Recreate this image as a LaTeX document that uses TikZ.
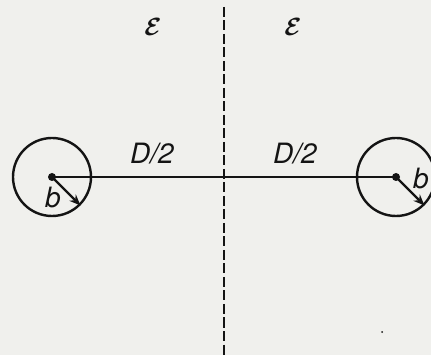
\documentclass[tikz,border=0pt]{standalone}
\usepackage{fontspec}
\setmainfont{TeX Gyre Heros}
\usepackage{xcolor}
\usetikzlibrary{arrows.meta,positioning}
\definecolor{paper}{RGB}{240,240,237}
\definecolor{ink}{RGB}{20,20,20}

\begin{document}
\begin{tikzpicture}[
  x=1pt,y=-1pt,
  every node/.style={font=\fontsize{28}{30}\selectfont\itshape,text=ink,inner sep=0pt},
  medium/.style={font=\fontsize{32}{34}\selectfont\boldmath},
  wire/.style={draw=ink,circle,line width=2.4pt,minimum size=78pt,inner sep=0pt},
  arr/.style={-{Stealth[length=11pt,width=9pt]},line width=2.2pt,draw=ink},
  axis/.style={line width=2.6pt,draw=ink},
  cut/.style={line width=2.6pt,draw=ink,dash pattern=on 10pt off 3.5pt}
]
\fill[paper] (0,0) rectangle (431,355);
\useasboundingbox (0,0) rectangle (431,355);

\node[wire] (lwire) at (52,177) {};
\node[wire] (rwire) at (396,177) {};
\coordinate (ctop) at (224,7);
\coordinate (cbot) at (224,355);

\draw[axis] (lwire.center) -- (rwire.center);
\draw[cut] (ctop) -- (cbot);
\fill[ink] (lwire.center) circle (4pt);
\fill[ink] (rwire.center) circle (4pt);
\draw[arr] (lwire.center) -- (lwire.-45);
\draw[arr] (rwire.center) -- (rwire.-45);

\node[medium] (epsl) at (153,27) {$\mathcal{E}$};
\node[medium] (epsr) at (293,27) {$\mathcal{E}$};
\node (halfl) at (152,154) {D/2};
\node (halfr) at (295,154) {D/2};
\node (bl) at (53,198) {b};
\node (br) at (421,179) {b};
\fill[ink] (382,332) circle (1pt);
\end{tikzpicture}
\end{document}
